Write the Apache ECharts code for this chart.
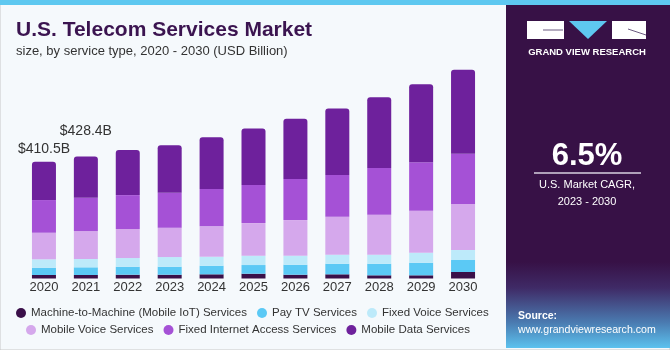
<!DOCTYPE html>
<html>
<head>
<meta charset="utf-8">
<script src="https://cdn.jsdelivr.net/npm/echarts@6/dist/echarts.min.js"></script>
<style>
  html, body { margin: 0; padding: 0; background: #f5f9fc; }
  #chart { width: 670px; height: 350px; }
</style>
</head>
<body>
<div id="chart"></div>
<script>
var years = ["2020", "2021", "2022", "2023", "2024", "2025", "2026", "2027", "2028", "2029", "2030"];
var m2m = [12.3, 12.3, 13.3, 13.3, 14.7, 16.8, 13.3, 14.7, 11.2, 11.2, 22.8];
var payTv = [25.6, 27.0, 28.1, 28.1, 30.2, 30.5, 35.1, 37.2, 40.7, 44.2, 42.1];
var fixedVoice = [29.5, 29.1, 30.5, 34.0, 31.6, 32.6, 31.6, 31.6, 31.6, 35.1, 35.1];
var mobileVoice = [93.4, 98.3, 101.8, 102.8, 106.7, 114.8, 125.3, 133.4, 140.4, 147.4, 161.5];
var fixedInternet = [114.8, 116.9, 119.3, 122.9, 130.9, 133.4, 143.9, 146.4, 163.9, 170.9, 176.6];
var mobileData = [134.9, 144.8, 158.0, 167.4, 182.5, 199.0, 211.7, 234.1, 249.2, 273.8, 294.8];
var totalLabels = ["$410.5B", "$428.4B"];
var labelGap = [6, 18];

var names = [
  "Machine-to-Machine (Mobile IoT) Services",
  "Pay TV Services",
  "Fixed Voice Services",
  "Mobile Voice Services",
  "Fixed Internet Access Services",
  "Mobile Data Services"
];
var colors = ["#3a1049", "#5bc9f5", "#bdeafa", "#d5a8ec", "#a551d6", "#6e219c"];

var topData = mobileData.map(function (v, i) {
  if (i < totalLabels.length) {
    return {
      value: v,
      label: { show: true, position: "top", distance: labelGap[i], formatter: totalLabels[i] }
    };
  }
  return v;
});

var allData = [m2m, payTv, fixedVoice, mobileVoice, fixedInternet, topData];
var series = allData.map(function (d, i) {
  var s = {
    name: names[i],
    type: "bar",
    stack: "total",
    barWidth: 24,
    data: d,
    itemStyle: { color: colors[i] },
    label: { color: "#333", fontSize: 14, fontFamily: "Liberation Sans" }
  };
  if (i == 5) {
    s.itemStyle.borderRadius = [3, 3, 0, 0];
  }
  return s;
});

var myChart = echarts.init(document.getElementById("chart"));
var option = {
  backgroundColor: "#f5f9fc",
  animation: false,
  title: [
    {
      text: "U.S. Telecom Services Market",
      left: 16,
      top: 20,
      padding: 0,
      textStyle: { color: "#3b1450", fontSize: 21, fontWeight: "bold", fontFamily: "Liberation Sans" }
    },
    {
      text: "size, by service type, 2020 - 2030 (USD Billion)",
      left: 16,
      top: 45,
      padding: 0,
      textStyle: { color: "#333", fontSize: 13, fontWeight: "normal", fontFamily: "Liberation Sans" }
    }
  ],
  legend: [
    {
      data: names.slice(0, 3),
      left: 16,
      top: 307,
      padding: 0,
      icon: "circle",
      itemWidth: 10,
      itemHeight: 10,
      itemGap: 10,
      textStyle: { color: "#333", fontSize: 11.5, fontFamily: "Liberation Sans" }
    },
    {
      data: names.slice(3),
      left: 26,
      top: 324,
      padding: 0,
      icon: "circle",
      itemWidth: 10,
      itemHeight: 10,
      itemGap: 10,
      textStyle: { color: "#333", fontSize: 11.5, fontFamily: "Liberation Sans" }
    }
  ],
  grid: { left: 23, right: 186, top: 65, bottom: 71.5 },
  xAxis: {
    type: "category",
    data: years,
    axisLine: { show: false },
    axisTick: { show: false },
    axisLabel: { color: "#333", fontSize: 13, margin: 2, fontFamily: "Liberation Sans" }
  },
  yAxis: {
    type: "value",
    min: 0,
    max: 750,
    show: false,
    splitLine: { show: false }
  },
  series: series,
  graphic: [
    { type: "rect", shape: { x: 0, y: 0, width: 670, height: 350 }, style: { fill: "none", stroke: "#c8c8c8", lineWidth: 1 }, silent: true },
    { type: "rect", shape: { x: 0, y: 0, width: 670, height: 5 }, style: { fill: "#5ec8f0" } },
    { type: "rect", shape: { x: 506, y: 5, width: 164, height: 343 }, style: { fill: "#371146" } },
    {
      type: "rect",
      shape: { x: 506, y: 262, width: 164, height: 86 },
      style: {
        fill: new echarts.graphic.LinearGradient(0, 0, 0, 1, [
          { offset: 0, color: "#371146" },
          { offset: 0.3, color: "#3f2a66" },
          { offset: 0.7, color: "#4a7ab0" },
          { offset: 1, color: "#5cc2ee" }
        ])
      }
    },
    // logo
    { type: "rect", shape: { x: 527, y: 21, width: 37, height: 18 }, style: { fill: "#ffffff" } },
    { type: "polyline", shape: { points: [[543, 30], [563, 30]] }, style: { stroke: "#6b5a80", lineWidth: 1 } },
    { type: "polygon", shape: { points: [[569, 21], [607, 21], [588, 39]] }, style: { fill: "#5ec8f0" } },
    { type: "rect", shape: { x: 612, y: 21, width: 34, height: 18 }, style: { fill: "#ffffff" } },
    { type: "polyline", shape: { points: [[628, 29], [646, 35]] }, style: { stroke: "#6b5a80", lineWidth: 1 } },
    {
      type: "text", x: 587, y: 52,
      style: { text: "GRAND VIEW RESEARCH", fill: "#ffffff", fontSize: 9.5, fontWeight: "bold", fontFamily: "Liberation Sans", textAlign: "center", textVerticalAlign: "middle" }
    },
    {
      type: "text", x: 587, y: 156,
      style: { text: "6.5%", fill: "#ffffff", fontSize: 31, fontWeight: "bold", fontFamily: "Liberation Sans", textAlign: "center", textVerticalAlign: "middle" }
    },
    { type: "polyline", shape: { points: [[534, 173], [641, 173]] }, style: { stroke: "#d8d0e0", lineWidth: 1.5 } },
    {
      type: "text", x: 587, y: 185,
      style: { text: "U.S. Market CAGR,", fill: "#ffffff", fontSize: 11, fontFamily: "Liberation Sans", textAlign: "center", textVerticalAlign: "middle" }
    },
    {
      type: "text", x: 587, y: 202,
      style: { text: "2023 - 2030", fill: "#ffffff", fontSize: 11, fontFamily: "Liberation Sans", textAlign: "center", textVerticalAlign: "middle" }
    },
    {
      type: "text", x: 518, y: 316,
      style: { text: "Source:", fill: "#ffffff", fontSize: 10.5, fontWeight: "bold", fontFamily: "Liberation Sans", textVerticalAlign: "middle" }
    },
    {
      type: "text", x: 518, y: 330,
      style: { text: "www.grandviewresearch.com", fill: "#ffffff", fontSize: 10.6, fontFamily: "Liberation Sans", textVerticalAlign: "middle" }
    }
  ]
};
myChart.setOption(option);
</script>
</body>
</html>
